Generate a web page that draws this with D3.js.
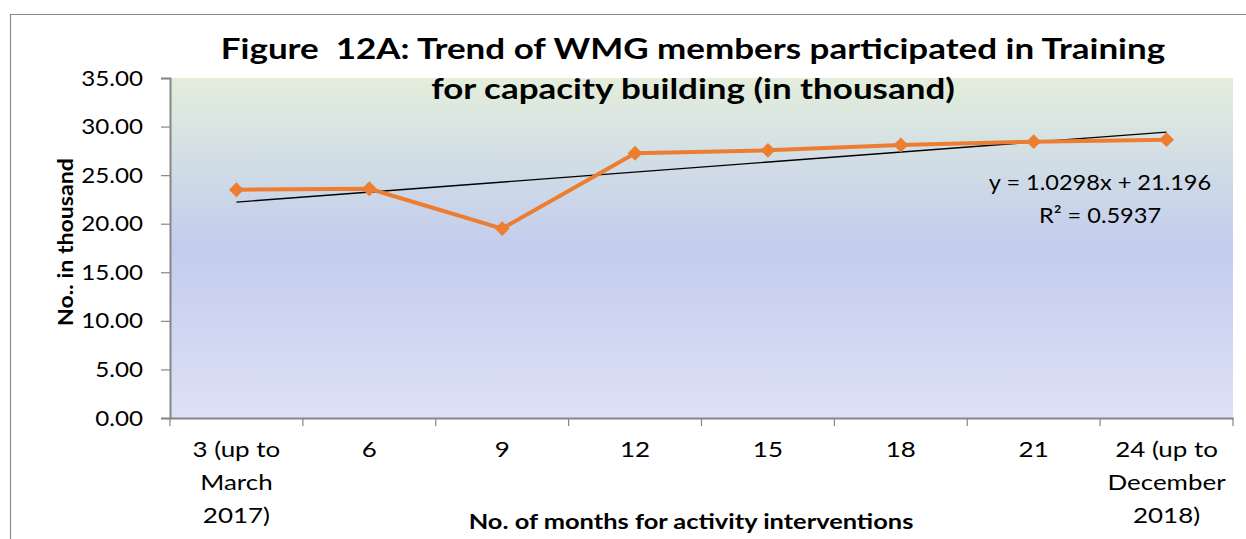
<!DOCTYPE html>
<html>
<head>
<meta charset="utf-8">
<script src="https://cdn.jsdelivr.net/npm/d3@7"></script>
<style>
  html, body { margin: 0; padding: 0; background: #fff; }
  svg { display: block; }
  text { font-family: Lato, "Open Sans", sans-serif; fill: #000; white-space: pre; }
</style>
</head>
<body>
<svg id="chart" width="1246" height="539"></svg>
<script>
// ---- data ----
const categories = [
  ["3 (up to", "March", "2017)"],
  ["6"], ["9"], ["12"], ["15"], ["18"], ["21"],
  ["24 (up to", "December", "2018)"]
];
const values = [23.5, 23.6, 19.5, 27.25, 27.55, 28.1, 28.45, 28.65];
const yTicks = [0, 5, 10, 15, 20, 25, 30, 35];
const trendSlope = 1.0298;
const trendIntercept = 21.196;
const trendLabel = ["y = 1.0298x + 21.196", "R² = 0.5937"];
const titleLines = ["Figure  12A: Trend of WMG members participated in Training",
                    "for capacity building (in thousand)"];
const yTitle = "No.. in thousand";
const xTitle = "No. of months for activity interventions";

// ---- layout ----
const W = 1246, H = 539;
const plot = { left: 170, right: 1233, top: 78, bottom: 418 };

const svg = d3.select("#chart");

function widen(sel, f) {
  sel.each(function () {
    const w = this.getComputedTextLength();
    d3.select(this).attr("textLength", w * f).attr("lengthAdjust", "spacingAndGlyphs");
  });
}

// outer frame (top and left edges visible)
svg.append("path")
  .attr("d", `M10.5,${H} L10.5,14.5 L${W},14.5`)
  .attr("fill", "none").attr("stroke", "#8c8c8c").attr("stroke-width", 1.2);

// gradient
const defs = svg.append("defs");
const grad = defs.append("linearGradient").attr("id", "bg")
  .attr("x1", 0).attr("y1", 0).attr("x2", 0).attr("y2", 1);
[["0%", "#e3eedb"], ["22%", "#d3dfe4"], ["50%", "#c3cced"], ["100%", "#dde1f6"]]
  .forEach(([o, c]) => grad.append("stop").attr("offset", o).attr("stop-color", c));

const x = d3.scaleBand().domain(d3.range(categories.length))
  .range([plot.left, plot.right]).padding(0);
const xc = i => x(i) + x.bandwidth() / 2;
const y = d3.scaleLinear().domain([0, 35]).range([plot.bottom, plot.top]);

svg.append("rect")
  .attr("x", plot.left).attr("y", plot.top)
  .attr("width", plot.right - plot.left).attr("height", plot.bottom - plot.top)
  .attr("fill", "url(#bg)");

// y axis
const yAxis = d3.axisLeft(y).tickValues(yTicks).tickFormat(d3.format(".2f"))
  .tickSize(9).tickPadding(18);
const gy = svg.append("g").attr("transform", `translate(${plot.left},0)`).call(yAxis);
gy.select(".domain").attr("stroke", "#868686").attr("stroke-width", 2);
gy.selectAll(".tick line").attr("stroke", "#868686").attr("stroke-width", 1.2);
gy.selectAll(".tick text").style("font-size", "22px").style("font-family", "Lato, sans-serif")
  .attr("fill", "#000").attr("x", -27);
widen(gy.selectAll(".tick text"), 1.1);

// x axis
const xAxis = d3.axisBottom(x).tickSize(0).tickFormat("");
const gx = svg.append("g").attr("transform", `translate(0,${plot.bottom})`).call(xAxis);
gx.select(".domain").attr("stroke", "#868686").attr("stroke-width", 2);
gx.selectAll(".tick").remove();
const bounds = d3.range(categories.length + 1).map(i => i < categories.length ? x(i) : x(i - 1) + x.bandwidth());
gx.selectAll("line.bt").data(bounds).join("line").attr("class", "bt")
  .attr("x1", d => d).attr("x2", d => d).attr("y1", 0).attr("y2", 8)
  .attr("stroke", "#868686").attr("stroke-width", 1.2);
// category labels
const lab = svg.append("g");
categories.forEach((lines, i) => {
  lines.forEach((s, j) => {
    lab.append("text").attr("class", "cat").attr("text-anchor", "middle")
      .attr("x", xc(i)).attr("y", 457 + j * 33).style("font-size", "22px").text(s);
  });
});
widen(lab.selectAll("text"), 1.18);

// trend line
const tl = [0, categories.length - 1].map(i => ({ i, v: trendSlope * (i + 1) + trendIntercept }));
svg.append("line")
  .attr("x1", xc(tl[0].i)).attr("y1", y(tl[0].v))
  .attr("x2", xc(tl[1].i)).attr("y2", y(tl[1].v))
  .attr("stroke", "#000").attr("stroke-width", 1.3);

// series line
const line = d3.line().x((d, i) => xc(i)).y(d => y(d));
svg.append("path").datum(values).attr("d", line)
  .attr("fill", "none").attr("stroke", "#ed7d31").attr("stroke-width", 4)
  .attr("stroke-linejoin", "round");
svg.selectAll("path.mk").data(values).join("path").attr("class", "mk")
  .attr("d", d3.symbol(d3.symbolSquare, 110))
  .attr("transform", (d, i) => `translate(${xc(i)},${y(d)}) rotate(45)`)
  .attr("fill", "#ed7d31");

// trend label
const tlab = svg.append("g");
trendLabel.forEach((s, j) => {
  tlab.append("text").attr("text-anchor", "middle")
    .attr("x", 1100).attr("y", 190 + j * 33)
    .style("font-size", "22px").text(s);
});
widen(tlab.selectAll("text"), 1.07);

// title
const tg = svg.append("g");
titleLines.forEach((s, j) => {
  tg.append("text").attr("text-anchor", "middle")
    .attr("x", 693).attr("y", 59 + j * 40)
    .style("font-size", "29px").style("font-weight", "bold").text(s);
});
widen(tg.selectAll("text"), 1.205);

// axis titles
const yt = svg.append("text").attr("text-anchor", "middle")
  .attr("transform", `translate(73,242) rotate(-90)`)
  .style("font-size", "21px").style("font-weight", "bold").text(yTitle);
widen(yt, 1.1);
const xt = svg.append("text").attr("text-anchor", "middle")
  .attr("x", 691).attr("y", 529)
  .style("font-size", "21px").style("font-weight", "bold").text(xTitle);
widen(xt, 1.21);
</script>
</body>
</html>
